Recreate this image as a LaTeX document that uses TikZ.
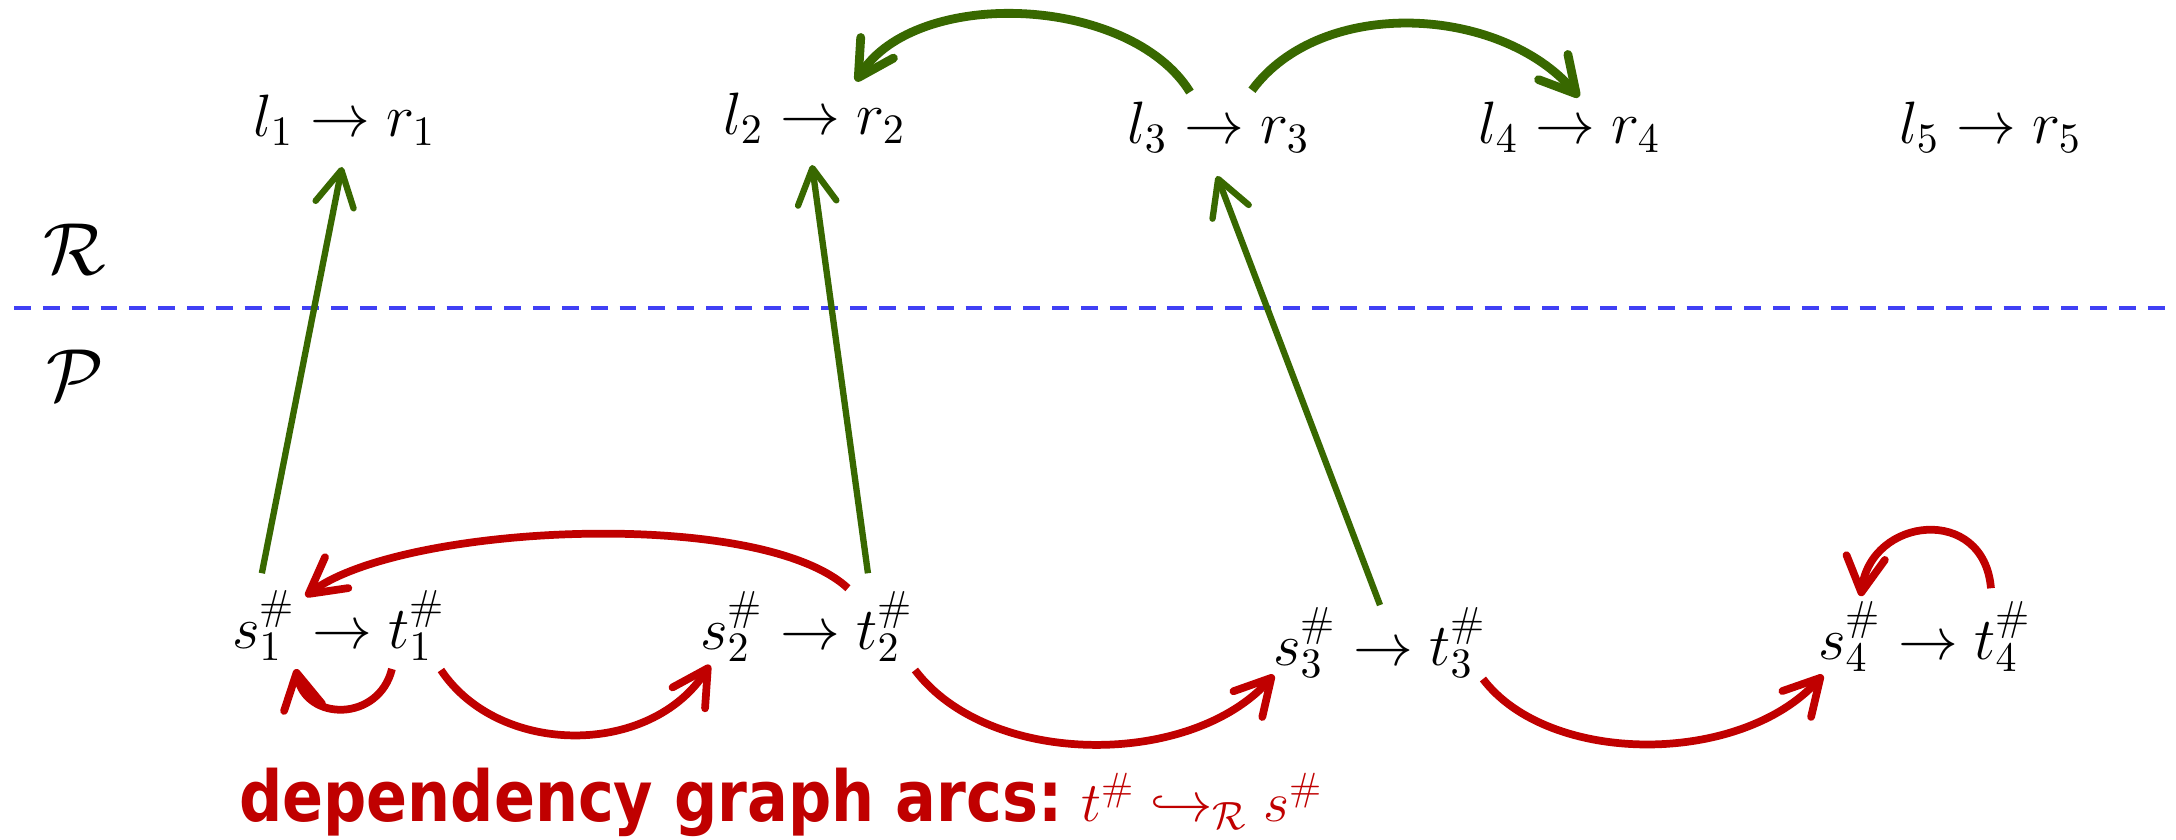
\RequirePackage{fix-cm}
\documentclass[tikz,border=0pt]{standalone}
\usepackage{fontspec}
\newfontfamily\labfont{DejaVu Sans}[FakeStretch=0.86]
\usetikzlibrary{arrows.meta,positioning}
\definecolor{dgreen}{RGB}{56,104,0}
\definecolor{dred}{RGB}{192,0,0}
\definecolor{dblue}{RGB}{64,64,245}
\begin{document}
\begin{tikzpicture}[x=0.01cm,y=-0.01cm,
  txt/.style={inner sep=0pt,outer sep=0pt,font=\fontsize{17}{20}\selectfont},
  barb/.style={-{Straight Barb[length=10pt,width=11pt,round]}},
  gline/.style={draw=dgreen,line width=1.8pt,barb},
  gcurve/.style={draw=dgreen,line width=2.5pt,barb},
  rcurve/.style={draw=dred,line width=2.2pt,barb},
  side/.style={inner sep=0pt,font=\fontsize{21}{24}\selectfont},
  sepline/.style={draw=dblue,line width=1.2pt,dash pattern=on 4.8pt off 3.4pt}]
\fill[white] (0,0) rectangle (2176,840);
\useasboundingbox (0,0) rectangle (2176,840);

% top rules
\node[txt,anchor=base] (ta1) at (340,137) {$\to$};
\node[txt,base left=4.7pt of ta1] (l1) {$l_1$};
\node[txt,base right=4.7pt of ta1] (r1) {$r_1$};
\node[txt,anchor=base] (ta2) at (810,135) {$\to$};
\node[txt,base left=4.7pt of ta2] (l2) {$l_2$};
\node[txt,base right=4.7pt of ta2] (r2) {$r_2$};
\node[txt,anchor=base] (ta3) at (1214,144) {$\to$};
\node[txt,base left=4.7pt of ta3] (l3) {$l_3$};
\node[txt,base right=4.7pt of ta3] (r3) {$r_3$};
\node[txt,anchor=base] (ta4) at (1565,144) {$\to$};
\node[txt,base left=4.7pt of ta4] (l4) {$l_4$};
\node[txt,base right=4.7pt of ta4] (r4) {$r_4$};
\node[txt,anchor=base] (ta5) at (1986,144) {$\to$};
\node[txt,base left=4.7pt of ta5] (l5) {$l_5$};
\node[txt,base right=4.7pt of ta5] (r5) {$r_5$};

% bottom rules
\node[txt,anchor=base] (ba1) at (342,648) {$\to$};
\node[txt,base left=4.7pt of ba1] (s1) {$s_1^{\#}$};
\node[txt,base right=4.7pt of ba1] (t1) {$t_1^{\#}$};
\node[txt,anchor=base] (ba2) at (810,649) {$\to$};
\node[txt,base left=4.7pt of ba2] (s2) {$s_2^{\#}$};
\node[txt,base right=4.7pt of ba2] (t2) {$t_2^{\#}$};
\node[txt,anchor=base] (ba3) at (1383,665) {$\to$};
\node[txt,base left=4.7pt of ba3] (s3) {$s_3^{\#}$};
\node[txt,base right=4.7pt of ba3] (t3) {$t_3^{\#}$};
\node[txt,anchor=base] (ba4) at (1928,659) {$\to$};
\node[txt,base left=4.7pt of ba4] (s4) {$s_4^{\#}$};
\node[txt,base right=4.7pt of ba4] (t4) {$t_4^{\#}$};

% side labels and separator
\node[side] (calR) at (75,249) {$\mathcal{R}$};
\node[side] (calP) at (75,375) {$\mathcal{P}$};
\coordinate (sepL) at (14,308);
\coordinate (sepR) at (2176,308);
\draw[sepline] (sepL) -- (sepR);

% legend
\node[inner sep=0pt,outer sep=0pt,anchor=base west,text=dred,font=\fontsize{16}{20}\selectfont] (legend) at (239,821)
  {{\fontsize{20}{24}\labfont\bfseries dependency graph arcs:}\,\,$t^{\#}\hookrightarrow_{\mathcal{R}} s^{\#}$};

% green connectors
\draw[gline] ([shift={(-2,-17)}]s1.north) -- ([shift={(2,30)}]ta1.south);
\draw[gline] ([shift={(-17,-18)}]t2.north) -- ([shift={(2,30)}]ta2.south);
\draw[gline] ([shift={(-3,-38)}]ba3.north) -- ([shift={(3,32)}]ta3.south);
\draw[gcurve] ([shift={(-24,-30)}]ta3.north) .. controls +(-60,-97) and +(60,-95) .. ([shift={(-25,-28)}]r2.north);
\draw[gcurve] ([shift={(-33,-28)}]r3.north) .. controls +(69,-94) and +(-79,-92) .. ([shift={(14,-25)}]ta4.north);

% red connectors
\draw[rcurve] ([shift={(-37,-3)}]t2.north) .. controls +(-89,-82) and +(95,-72) .. ([shift={(10,6)}]s1.north east);
\draw[rcurve] ([shift={(-25,9)}]t1.south) .. controls +(-13,53) and +(10,53) .. ([shift={(32,9)}]s1.south);
\draw[rcurve] ([shift={(24,10)}]t1.south) .. controls +(58,87) and +(-59,92) .. ([shift={(-22,4)}]s2.south);
\draw[rcurve] ([shift={(30,9)}]t2.south) .. controls +(74,98) and +(-83,93) .. ([shift={(-31,-2)}]s3.south);
\draw[rcurve] ([shift={(25,2)}]t3.south) .. controls +(66,87) and +(-82,91) .. ([shift={(-27,4)}]s4.south);
\draw[rcurve] ([shift={(-12,-13)}]t4.north) .. controls +(-7,-84) and +(10,-80) .. ([shift={(11,-5)}]s4.north);
\end{tikzpicture}
\end{document}
